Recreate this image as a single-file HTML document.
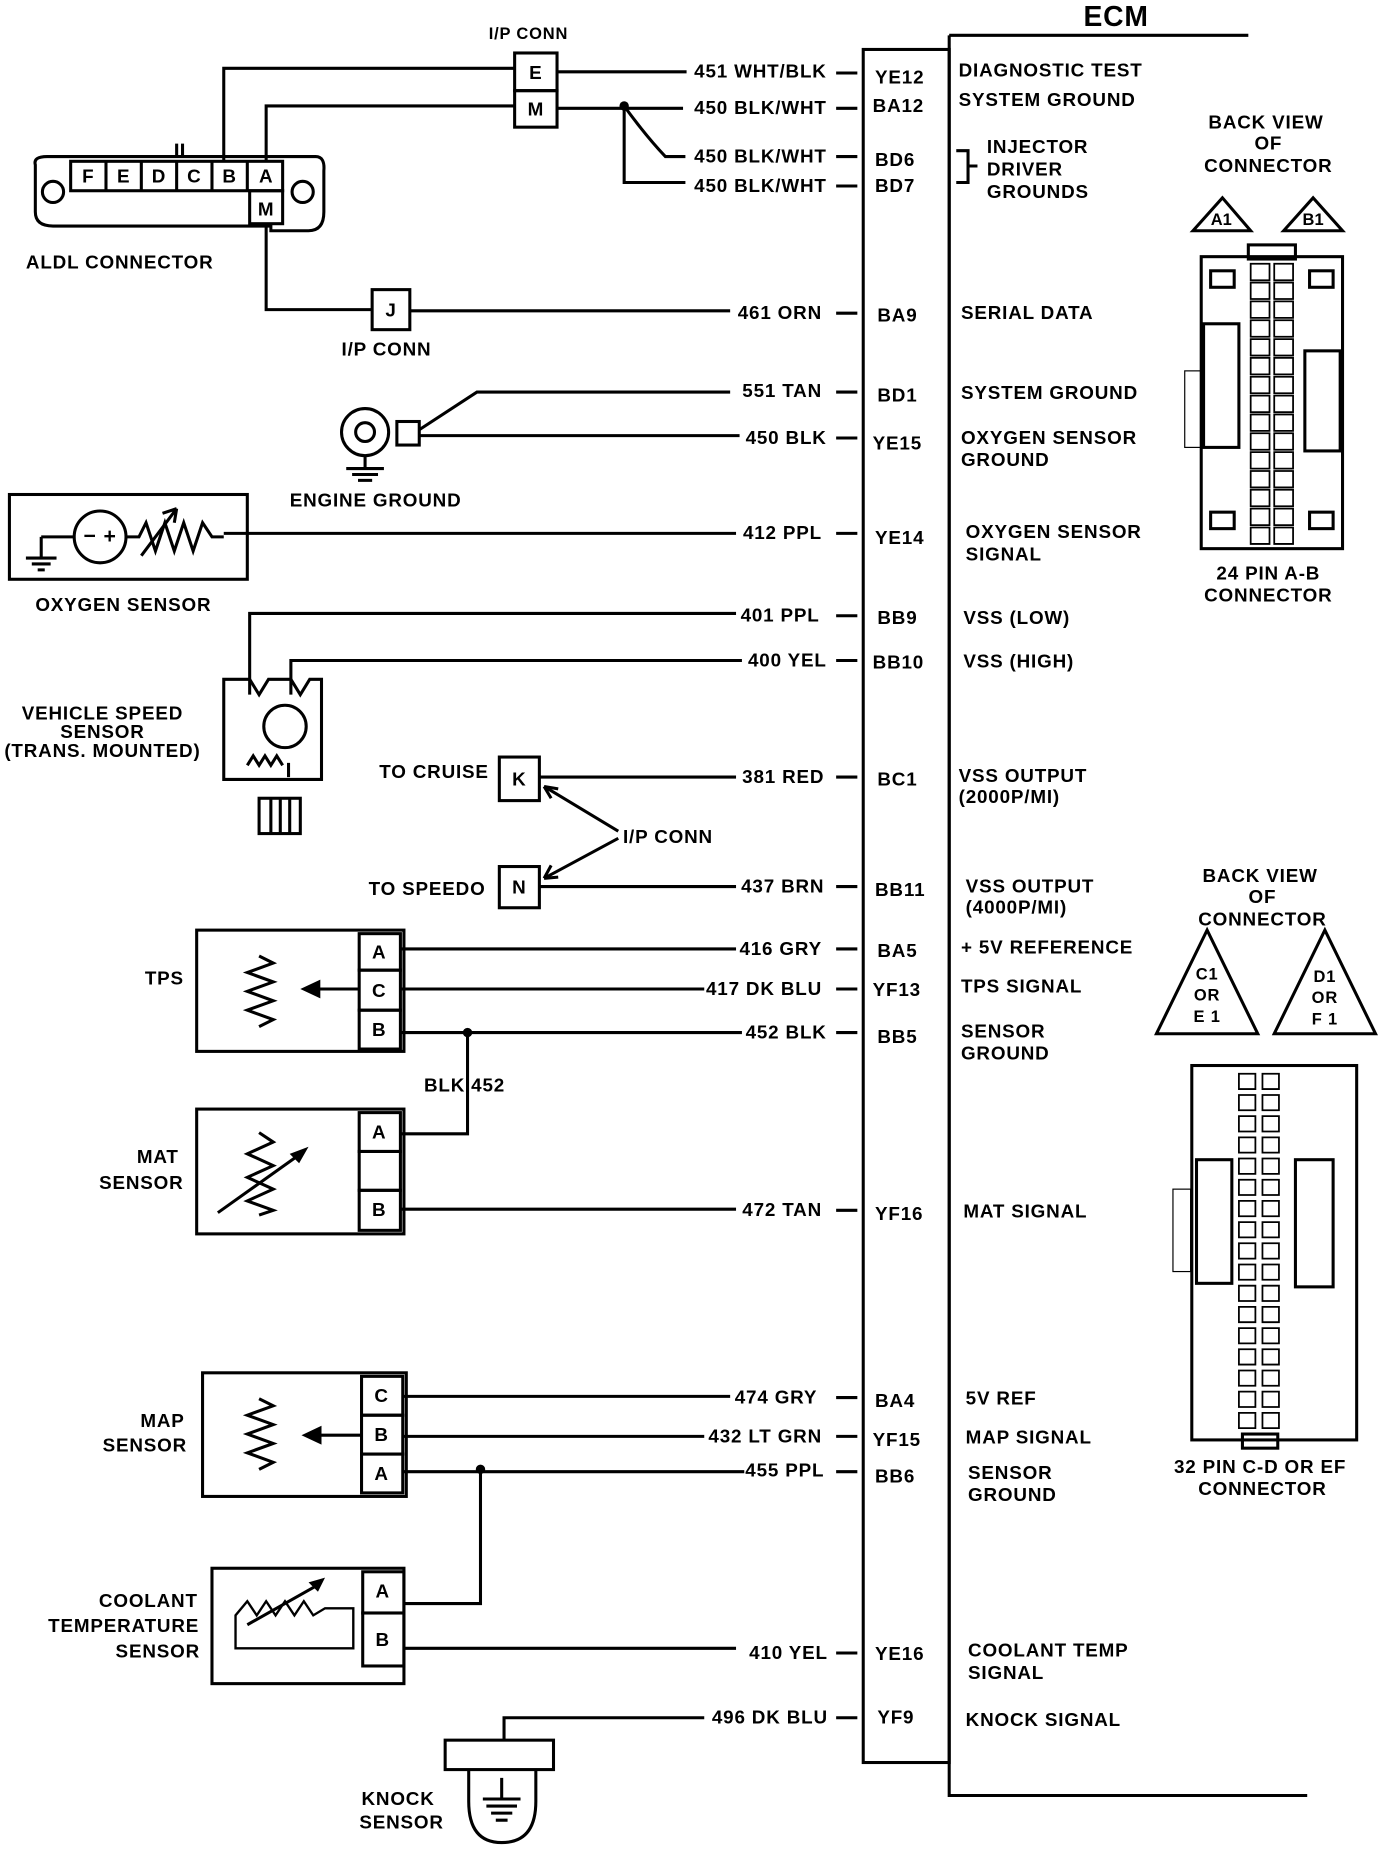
<!DOCTYPE html>
<html><head><meta charset="utf-8"><style>
html,body{margin:0;padding:0;background:#fff}
svg{display:block}
text{font-family:"Liberation Sans",sans-serif;font-weight:bold;font-size:16px;letter-spacing:0.7px;fill:#000}
</style></head><body>
<svg width="1392" height="1852" viewBox="0 0 1182 1573" preserveAspectRatio="none" xmlns="http://www.w3.org/2000/svg">
<g fill="none" stroke="#000" stroke-width="2.6">
<path d="M806 30 H1060 M806 30 V1525 H1110"/>
<rect x="733" y="42" width="73" height="1455"/>
<path d="M812 128 H822 V155 H812 M822 141 H830"/>
<path d="M30 140 Q28 133 40 133 H268 Q276 133 275 145 V180 Q275 196 262 196 H230 V192 H45 Q30 192 30 180 Z"/>
<circle cx="45" cy="163" r="9"/><circle cx="257" cy="163" r="9"/>
<rect x="60" y="137" width="180" height="25"/>
<path d="M90 137V162M120 137V162M150 137V162M180 137V162M210 137V162"/>
<rect x="212" y="162" width="28" height="28"/>
<path d="M150 122V133M155 122V133"/>
<rect x="437" y="45" width="36" height="32"/><rect x="437" y="77" width="36" height="31"/>
<path d="M190 137V58H437 M226 137V90H437"/>
<path d="M473 61H583 M473 92H580"/>
<path d="M530 90 Q548 115 565 133H582 M530 90V155H582"/>
<path d="M226 190V263H316"/><rect x="316" y="246" width="32" height="34"/>
<path d="M348 264H620"/>
<circle cx="310" cy="367" r="20"/><circle cx="310" cy="367" r="8"/>
<rect x="337" y="358" width="19" height="20"/>
<path d="M356 365L405 333H620 M356 370H628"/>
<path d="M310 387V398 M294 398H326 M299 403H321 M304 408H316"/>
<rect x="8" y="420" width="202" height="72"/>
<circle cx="85" cy="456" r="22"/>
<path d="M35 456H63 M35 456V474 M22 474H48 M27 479H43 M32 484H38"/>
<path d="M107 456H118L124 444L132 468L140 444L148 468L156 444L164 468L172 444L180 456H190 M190 453H625"/>
<path d="M120 472L150 432 M150 432L138 436M150 432L148 444"/>
<path d="M190 577H212L220 590L228 577H247L255 590L263 577H273V662H190Z"/>
<circle cx="242" cy="617" r="18"/>
<path d="M212 590V521H625 M247 590V561H630"/>
<path d="M210 650L215 642L220 650L225 642L230 650L235 642L240 650 M245 648V660"/>
<rect x="220" y="678" width="35" height="30"/>
<path d="M230 678V708M238 678V708M246 678V708"/>
<rect x="424" y="643" width="34" height="37"/><rect x="424" y="736" width="34" height="35"/>
<path d="M458 660H625 M458 753H625"/>
<path d="M525 706L462 668 M525 712L462 746"/>
<path d="M462 668L474 670M462 668L468 678 M462 746L468 735M462 746L474 745"/>
<rect x="167" y="790" width="176" height="103"/>
<rect x="305" y="793" width="35" height="31"/><rect x="305" y="824" width="35" height="34"/><rect x="305" y="858" width="35" height="33"/>
<path d="M220 812L232 818L210 826L232 834L210 842L232 850L210 858L232 866L220 872"/>
<path d="M305 840H262"/>
<path d="M340 806H625 M340 840H598 M340 877H630"/>
<path d="M397 877V963H340"/>
<rect x="167" y="942" width="176" height="106"/>
<rect x="305" y="945" width="35" height="33"/><rect x="305" y="978" width="35" height="33"/><rect x="305" y="1011" width="35" height="34"/>
<path d="M220 962L232 970L210 980L232 990L210 1000L232 1010L210 1020L232 1028L220 1032"/>
<path d="M185 1030L258 978"/>
<path d="M340 1027H625"/>
<rect x="172" y="1166" width="173" height="105"/>
<rect x="307" y="1169" width="35" height="33"/><rect x="307" y="1202" width="35" height="33"/><rect x="307" y="1235" width="35" height="33"/>
<path d="M220 1188L232 1194L210 1202L232 1210L210 1218L232 1226L210 1234L232 1242L220 1248"/>
<path d="M307 1219H268"/>
<path d="M342 1186H620 M342 1220H598 M342 1250H632"/>
<path d="M408 1248V1362H343"/>
<rect x="180" y="1332" width="163" height="98"/>
<rect x="308" y="1335" width="35" height="35"/><rect x="308" y="1370" width="35" height="45"/>
<path d="M200 1400V1372L210 1360L218 1372L226 1360L234 1372L242 1360L250 1372L258 1360L266 1372L276 1366H300V1400Z" stroke-width="2"/>
<path d="M210 1380L272 1345"/>
<path d="M343 1400H625"/>
<path d="M428 1478V1459H598"/>
<rect x="378" y="1478" width="92" height="25"/>
<path d="M398 1503V1530Q398 1565 426 1565Q455 1565 455 1530V1503"/>
<path d="M426 1510V1528 M410 1528H442 M413 1534H439 M417 1540H435 M421 1546H431"/>
<path d="M710 62H728M710 92H728M710 133H728M710 158H728M710 266H728M710 333H728M710 372H728M710 453H728M710 523H728M710 561H728M710 660H728M710 753H728M710 806H728M710 840H728M710 877H728M710 1028H728M710 1187H728M710 1220H728M710 1250H728M710 1404H728M710 1459H728"/>
<path d="M1013 196L1038 168L1062 196Z M1090 196L1115 168L1140 196Z"/>
<rect x="1020" y="218" width="120" height="248"/>
<rect x="1060" y="208" width="40" height="12"/>
<rect x="1022" y="275" width="30" height="105"/><rect x="1108" y="298" width="30" height="85"/>
<rect x="1006" y="315" width="14" height="65" stroke-width="1"/>
<rect x="1028" y="230" width="20" height="14"/><rect x="1112" y="230" width="20" height="14"/>
<rect x="1028" y="435" width="20" height="14"/><rect x="1112" y="435" width="20" height="14"/>
<path d="M982 878L1025 790L1068 878Z M1082 878L1125 790L1168 878Z"/>
<rect x="1012" y="905" width="140" height="318"/>
<rect x="1055" y="1218" width="30" height="12"/>
<rect x="1100" y="985" width="32" height="108"/>
<rect x="1016" y="985" width="30" height="105"/>
<rect x="996" y="1010" width="15" height="70" stroke-width="1"/>
</g>
<g fill="none" stroke="#000" stroke-width="1.5">
<path d="M1062 224h16v14h-16zM1082 224h16v14h-16zM1062 240h16v14h-16zM1082 240h16v14h-16zM1062 256h16v14h-16zM1082 256h16v14h-16zM1062 272h16v14h-16zM1082 272h16v14h-16zM1062 288h16v14h-16zM1082 288h16v14h-16zM1062 304h16v14h-16zM1082 304h16v14h-16zM1062 320h16v14h-16zM1082 320h16v14h-16zM1062 336h16v14h-16zM1082 336h16v14h-16zM1062 352h16v14h-16zM1082 352h16v14h-16zM1062 368h16v14h-16zM1082 368h16v14h-16zM1062 384h16v14h-16zM1082 384h16v14h-16zM1062 400h16v14h-16zM1082 400h16v14h-16zM1062 416h16v14h-16zM1082 416h16v14h-16zM1062 432h16v14h-16zM1082 432h16v14h-16zM1062 448h16v14h-16zM1082 448h16v14h-16z"/>
<path d="M1052 912h14v13h-14zM1072 912h14v13h-14zM1052 930h14v13h-14zM1072 930h14v13h-14zM1052 948h14v13h-14zM1072 948h14v13h-14zM1052 966h14v13h-14zM1072 966h14v13h-14zM1052 984h14v13h-14zM1072 984h14v13h-14zM1052 1002h14v13h-14zM1072 1002h14v13h-14zM1052 1020h14v13h-14zM1072 1020h14v13h-14zM1052 1038h14v13h-14zM1072 1038h14v13h-14zM1052 1056h14v13h-14zM1072 1056h14v13h-14zM1052 1074h14v13h-14zM1072 1074h14v13h-14zM1052 1092h14v13h-14zM1072 1092h14v13h-14zM1052 1110h14v13h-14zM1072 1110h14v13h-14zM1052 1128h14v13h-14zM1072 1128h14v13h-14zM1052 1146h14v13h-14zM1072 1146h14v13h-14zM1052 1164h14v13h-14zM1072 1164h14v13h-14zM1052 1182h14v13h-14zM1072 1182h14v13h-14zM1052 1200h14v13h-14zM1072 1200h14v13h-14z"/>
</g>
<g fill="#000">
<circle cx="530" cy="90" r="4"/><circle cx="397" cy="877" r="4"/><circle cx="408" cy="1248" r="4"/>
<path d="M255 840L272 832V848Z M256 1219L273 1211V1227Z M262 974L246 980L254 988Z M276 1340L262 1344L270 1352Z"/>
</g>
<text x="920" y="22" style="font-size:24px">ECM</text>
<text x="415" y="33" style="font-size:14px">I/P CONN</text>
<g text-anchor="middle" style="font-size:14px;letter-spacing:0">
<text x="455" y="67">E</text><text x="455" y="98">M</text><text x="332" y="269">J</text>
<text x="75" y="155">F</text><text x="105" y="155">E</text><text x="135" y="155">D</text><text x="165" y="155">C</text><text x="195" y="155">B</text><text x="226" y="155">A</text><text x="226" y="183">M</text>
<text x="441" y="667">K</text><text x="441" y="759">N</text>
<text x="322" y="814">A</text><text x="322" y="847">C</text><text x="322" y="880">B</text>
<text x="322" y="967">A</text><text x="322" y="1033">B</text>
<text x="324" y="1191">C</text><text x="324" y="1224">B</text><text x="324" y="1257">A</text>
<text x="325" y="1357">A</text><text x="325" y="1398">B</text>
<text x="85" y="461" style="font-size:18px">− +</text>
</g>
<text x="22" y="228">ALDL CONNECTOR</text>
<text x="290" y="302">I/P CONN</text>
<text x="246" y="430">ENGINE GROUND</text>
<text x="30" y="519">OXYGEN SENSOR</text>
<g text-anchor="middle">
<text x="87" y="611">VEHICLE SPEED</text><text x="87" y="627">SENSOR</text><text x="87" y="643">(TRANS. MOUNTED)</text>
<text x="134" y="988">MAT</text><text x="120" y="1010">SENSOR</text>
<text x="138" y="1212">MAP</text><text x="123" y="1233">SENSOR</text>
<text x="126" y="1365">COOLANT</text><text x="105" y="1386">TEMPERATURE</text><text x="134" y="1408">SENSOR</text>
<text x="338" y="1533">KNOCK</text><text x="341" y="1553">SENSOR</text>
<text x="1075" y="109">BACK VIEW</text><text x="1077" y="127">OF</text><text x="1077" y="146">CONNECTOR</text>
<text x="1077" y="492">24 PIN  A-B</text><text x="1077" y="511">CONNECTOR</text>
<text x="1070" y="749">BACK VIEW</text><text x="1072" y="767">OF</text><text x="1072" y="786">CONNECTOR</text>
<text x="1070" y="1251">32  PIN C-D OR EF</text><text x="1072" y="1270">CONNECTOR</text>
<text x="1037" y="191" style="font-size:14px;letter-spacing:0">A1</text><text x="1115" y="191" style="font-size:14px;letter-spacing:0">B1</text>
<text x="1025" y="832" style="font-size:14px">C1</text><text x="1025" y="850" style="font-size:14px">OR</text><text x="1025" y="868" style="font-size:14px">E 1</text>
<text x="1125" y="834" style="font-size:14px">D1</text><text x="1125" y="852" style="font-size:14px">OR</text><text x="1125" y="870" style="font-size:14px">F 1</text>
</g>
<text x="123" y="836">TPS</text>
<text x="322" y="661">TO CRUISE</text>
<text x="313" y="760">TO SPEEDO</text>
<text x="529" y="716">I/P CONN</text>
<text x="360" y="927">BLK 452</text>
<g text-anchor="end">
<text x="702" y="66">451 WHT/BLK</text><text x="702" y="97">450 BLK/WHT</text>
<text x="702" y="138">450 BLK/WHT</text><text x="702" y="163">450 BLK/WHT</text>
<text x="698" y="271">461 ORN</text><text x="698" y="337">551 TAN</text><text x="702" y="377">450 BLK</text>
<text x="698" y="458">412 PPL</text><text x="696" y="528">401 PPL</text><text x="702" y="566">400 YEL</text>
<text x="700" y="665">381 RED</text><text x="700" y="758">437 BRN</text><text x="698" y="811">416 GRY</text>
<text x="698" y="845">417 DK BLU</text><text x="702" y="882">452 BLK</text><text x="698" y="1033">472 TAN</text>
<text x="694" y="1192">474 GRY</text><text x="698" y="1225">432 LT GRN</text><text x="700" y="1254">455 PPL</text>
<text x="703" y="1409">410 YEL</text><text x="703" y="1464">496 DK BLU</text>
</g>
<g>
<text x="743" y="71">YE12</text><text x="741" y="95">BA12</text><text x="743" y="141">BD6</text><text x="743" y="163">BD7</text>
<text x="745" y="273">BA9</text><text x="745" y="341">BD1</text><text x="741" y="382">YE15</text><text x="743" y="462">YE14</text>
<text x="745" y="530">BB9</text><text x="741" y="568">BB10</text><text x="745" y="667">BC1</text><text x="743" y="761">BB11</text>
<text x="745" y="813">BA5</text><text x="741" y="846">YF13</text><text x="745" y="886">BB5</text><text x="743" y="1036">YF16</text>
<text x="743" y="1195">BA4</text><text x="741" y="1228">YF15</text><text x="743" y="1259">BB6</text><text x="743" y="1410">YE16</text><text x="745" y="1464">YF9</text>
</g>
<g>
<text x="814" y="65">DIAGNOSTIC TEST</text><text x="814" y="90">SYSTEM GROUND</text>
<text x="838" y="130">INJECTOR</text><text x="838" y="149">DRIVER</text><text x="838" y="168">GROUNDS</text>
<text x="816" y="271">SERIAL DATA</text><text x="816" y="339">SYSTEM GROUND</text>
<text x="816" y="377">OXYGEN SENSOR</text><text x="816" y="396">GROUND</text>
<text x="820" y="457">OXYGEN SENSOR</text><text x="820" y="476">SIGNAL</text>
<text x="818" y="530">VSS  (LOW)</text><text x="818" y="567">VSS  (HIGH)</text>
<text x="814" y="664">VSS OUTPUT</text><text x="814" y="682">(2000P/MI)</text>
<text x="820" y="758">VSS OUTPUT</text><text x="820" y="776">(4000P/MI)</text>
<text x="816" y="810">+ 5V REFERENCE</text><text x="816" y="843">TPS SIGNAL</text>
<text x="816" y="881">SENSOR</text><text x="816" y="900">GROUND</text>
<text x="818" y="1034">MAT SIGNAL</text>
<text x="820" y="1193">5V REF</text><text x="820" y="1226">MAP SIGNAL</text>
<text x="822" y="1256">SENSOR</text><text x="822" y="1275">GROUND</text>
<text x="822" y="1407">COOLANT TEMP</text><text x="822" y="1426">SIGNAL</text>
<text x="820" y="1466">KNOCK SIGNAL</text>
</g>
</svg>
</body></html>
